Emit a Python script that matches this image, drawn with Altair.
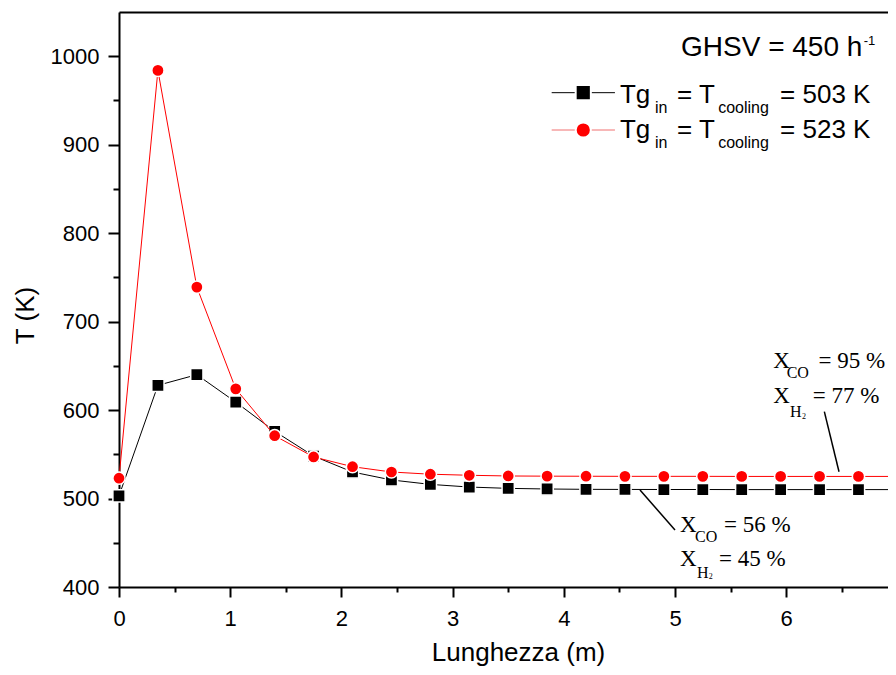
import altair as alt
import pandas as pd

# ---- data ----
x_len = [0.00, 0.35, 0.70, 1.05, 1.40, 1.75, 2.10, 2.45, 2.80, 3.15, 3.50,
         3.85, 4.20, 4.55, 4.90, 5.25, 5.60, 5.95, 6.30, 6.65, 7.00]
T_503 = [503, 628, 640, 609, 576, 548, 530, 521, 516, 513, 511.5,
         510.8, 510.4, 510.3, 510.2, 510.2, 510.1, 510.1, 510.1, 510.1, 510.1]
T_523 = [523, 984, 739, 624, 571, 547, 536, 530, 527.5, 526.3, 525.5,
         525.3, 525.2, 525.1, 525.1, 525.1, 525.0, 525.0, 525.0, 525.0, 525.0]

x_major = [0, 1, 2, 3, 4, 5, 6, 7]
x_minor = [0.5, 1.5, 2.5, 3.5, 4.5, 5.5, 6.5]
y_major = [400, 500, 600, 700, 800, 900, 1000]
y_minor = [450, 550, 650, 750, 850, 950]

# legend (positions in data units)
leg_sym_x = [4.175, 4.175]
leg_sym_y = [958.8, 916.6]
leg_line_x = [3.891, 3.891]
leg_line_x2 = [4.460, 4.460]

leg_big_text = ["Tg", "= T", "= 503 K", "Tg", "= T", "= 523 K"]
leg_big_x = [4.505, 5.018, 5.945, 4.505, 5.018, 5.945]
leg_big_y = [947.5, 947.5, 947.5, 907.6, 907.6, 907.6]
leg_sub_text = ["in", "cooling", "in", "cooling"]
leg_sub_x = [4.820, 5.388, 4.820, 5.388]
leg_sub_y = [936.2, 936.2, 896.3, 896.3]

ghsv_text = ["GHSV = 450 h"]
ghsv_x = [5.054]
ghsv_y = [1000.3]
ghsv_sup = ["-1"]
ghsv_sup_x = [6.697]
ghsv_sup_y = [1012.7]

# conversion annotations
ann_text = ["X", "= 56 %", "X", "= 45 %", "X", "= 95 %", "X", "= 77 %"]
ann_x = [5.045, 5.441, 5.045, 5.396, 5.884, 6.290, 5.884, 6.238]
ann_y = [462.2, 462.2, 423.7, 423.7, 647.2, 647.2, 608.3, 608.3]
ann_sub = ["CO", "H", "CO", "H"]
ann_sub_x = [5.180, 5.198, 6.004, 6.034]
ann_sub_y = [451.2, 410.2, 636.3, 591.8]
ann_sub2 = ["2", "2"]
ann_sub2_x = [5.303, 6.142]
ann_sub2_y = [408.5, 589.9]
lead_x = [4.685, 6.343]
lead_y = [509.7, 598.2]
lead_x2 = [5.000, 6.475]
lead_y2 = [464.4, 530.3]

PX_PER_M = 111.2          # reference: 1 m on the x axis spans ~111 px
W, H = 769, 575           # plot area runs to the page's right edge
X_MAX = W / PX_PER_M      # visible part of the 0..7 m axis
SANS = "Liberation Sans"
SERIF = "Liberation Serif"

xs = alt.Scale(domain=[0, X_MAX], nice=False, zero=False)
ys = alt.Scale(domain=[400, 1050], nice=False, zero=False)

df503 = pd.DataFrame({"x": x_len, "T": T_503})
df523 = pd.DataFrame({"x": x_len, "T": T_523})

ax_common = dict(domainColor="black", tickColor="black", labelColor="black",
                 grid=False)

x_axis_major = alt.Axis(orient="bottom", values=x_major, format="d",
                        tickSize=10, tickWidth=2, domainWidth=2,
                        labelFont=SANS, labelFontSize=22, labelPadding=11,
                        labelFlush=False, labelOverlap=False, labelBound=False,
                        title="Lunghezza (m)", titleFont=SANS, titleFontSize=26,
                        titleFontWeight="normal", titleColor="black",
                        titleX=399, titleY=73, titleBaseline="alphabetic",
                        titleAlign="center", **ax_common)
y_axis_major = alt.Axis(orient="left", values=y_major, format="d",
                        tickSize=11, tickWidth=2, domainWidth=2,
                        labelFont=SANS, labelFontSize=22, labelPadding=9,
                        labelFlush=False, labelOverlap=False,
                        title="T (K)", titleFont=SANS, titleFontSize=26,
                        titleFontWeight="normal", titleColor="black",
                        titleAngle=270, titleX=-86, titleY=303,
                        titleBaseline="alphabetic", titleAlign="center",
                        **ax_common)
x_axis_minor = alt.Axis(orient="bottom", values=x_minor, tickSize=5,
                        tickWidth=2, labels=False, domain=False, title=None,
                        **ax_common)
y_axis_minor = alt.Axis(orient="left", values=y_minor, tickSize=6,
                        tickWidth=2, labels=False, domain=False, title=None,
                        **ax_common)
x_axis_top = alt.Axis(orient="top", ticks=False, labels=False, domain=True,
                      domainWidth=2, title=None, **ax_common)

line503 = alt.Chart(df503).mark_line(color="black", strokeWidth=1).encode(
    x=alt.X("x:Q", scale=xs, axis=x_axis_major),
    y=alt.Y("T:Q", scale=ys, axis=y_axis_major),
)
pts503 = alt.Chart(df503).mark_point(shape="square", filled=True, fill="black",
                                     stroke="white", strokeWidth=1.5,
                                     size=150, opacity=1).encode(
    x=alt.X("x:Q", scale=xs, axis=x_axis_minor),
    y=alt.Y("T:Q", scale=ys, axis=y_axis_minor),
)
line523 = alt.Chart(df523).mark_line(color="#ff0000", strokeWidth=1).encode(
    x=alt.X("x:Q", scale=xs, axis=x_axis_top),
    y=alt.Y("T:Q", scale=ys, axis=None),
)
pts523 = alt.Chart(df523).mark_point(shape="circle", filled=True, fill="#ff0000",
                                     stroke="white", strokeWidth=1.5,
                                     size=150, opacity=1).encode(
    x=alt.X("x:Q", scale=xs, axis=None),
    y=alt.Y("T:Q", scale=ys, axis=None),
)

def xq(f="x"):
    return alt.X(f"{f}:Q", scale=xs, axis=None)

def yq(f="y"):
    return alt.Y(f"{f}:Q", scale=ys, axis=None)

# legend
leg_lines = alt.Chart(pd.DataFrame({"x": leg_line_x, "x2": leg_line_x2,
                                    "y": leg_sym_y, "c": ["k", "r"]})).mark_rule(
    strokeWidth=1).encode(
    x=xq(), x2="x2:Q", y=yq(),
    color=alt.Color("c:N", scale=alt.Scale(domain=["k", "r"],
                                           range=["black", "#f07070"]), legend=None),
)
leg_sq = alt.Chart(pd.DataFrame({"x": leg_sym_x[:1], "y": leg_sym_y[:1]})).mark_point(
    shape="square", filled=True, fill="black", stroke="white", strokeWidth=2,
    size=230, opacity=1).encode(x=xq(), y=yq())
leg_ci = alt.Chart(pd.DataFrame({"x": leg_sym_x[1:], "y": leg_sym_y[1:]})).mark_point(
    shape="circle", filled=True, fill="#ff0000", stroke="white", strokeWidth=2,
    size=230, opacity=1).encode(x=xq(), y=yq())

def text_layer(texts, xv, yv, font, size):
    return alt.Chart(pd.DataFrame({"x": xv, "y": yv, "t": texts})).mark_text(
        align="left", baseline="alphabetic", font=font, fontSize=size,
        color="black").encode(x=xq(), y=yq(), text="t:N")

t_leg_big = text_layer(leg_big_text, leg_big_x, leg_big_y, SANS, 26)
t_leg_sub = text_layer(leg_sub_text, leg_sub_x, leg_sub_y, SANS, 16)
t_ghsv = text_layer(ghsv_text, ghsv_x, ghsv_y, SANS, 28)
t_ghsv_sup = text_layer(ghsv_sup, ghsv_sup_x, ghsv_sup_y, SANS, 13)
t_ann = text_layer(ann_text, ann_x, ann_y, SERIF, 23)
t_ann_sub = text_layer(ann_sub, ann_sub_x, ann_sub_y, SERIF, 16)
t_ann_sub2 = text_layer(ann_sub2, ann_sub2_x, ann_sub2_y, SERIF, 8)

leads = alt.Chart(pd.DataFrame({"x": lead_x, "y": lead_y, "x2": lead_x2,
                                "y2": lead_y2})).mark_rule(
    color="black", strokeWidth=1.5).encode(x=xq(), y=yq(), x2="x2:Q", y2="y2:Q")

chart = alt.layer(
    line503, pts503, line523, pts523,
    leads, leg_lines, leg_sq, leg_ci,
    t_leg_big, t_leg_sub, t_ghsv, t_ghsv_sup,
    t_ann, t_ann_sub, t_ann_sub2,
).resolve_axis(x="independent", y="independent").properties(
    width=W, height=H,
    autosize=alt.AutoSizeParams(type="none"),
    padding={"left": 111, "top": 4, "right": 0, "bottom": 80},
    background="white",
).configure_view(stroke=None)

chart.save("out.html", embed_options={"renderer": "svg", "actions": False})
